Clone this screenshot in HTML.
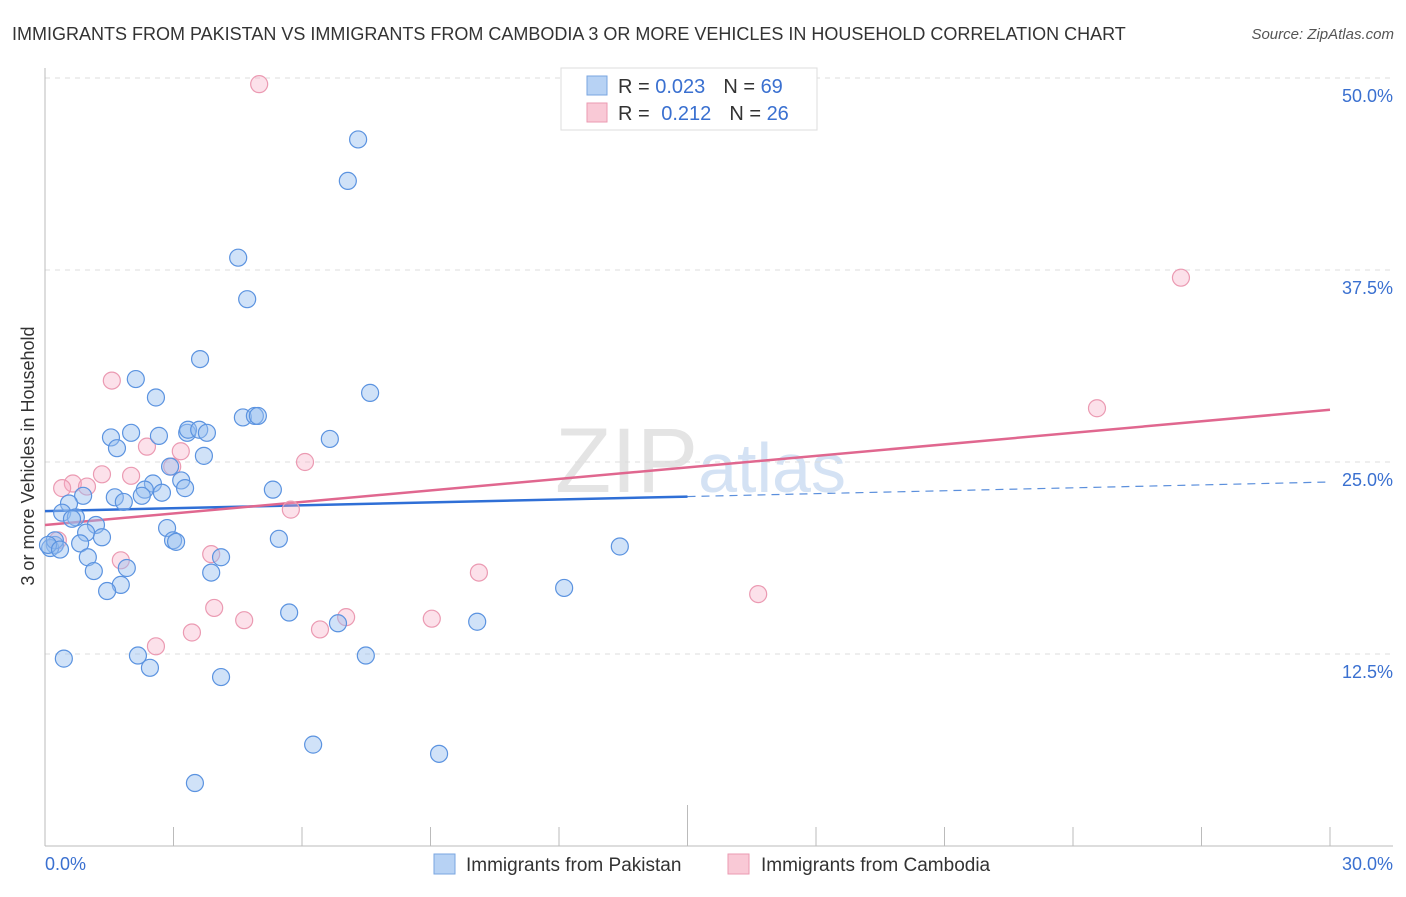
<!DOCTYPE html>
<html><head><meta charset="utf-8"><style>
body{margin:0;background:#fff;font-family:"Liberation Sans",sans-serif;}
svg text{font-family:"Liberation Sans",sans-serif;}
</style></head><body>
<svg id="chart" width="1406" height="892" xmlns="http://www.w3.org/2000/svg">
<text x="12" y="40" font-size="18" fill="#333">IMMIGRANTS FROM PAKISTAN VS IMMIGRANTS FROM CAMBODIA 3 OR MORE VEHICLES IN HOUSEHOLD CORRELATION CHART</text>
<text x="1394" y="39" font-size="15" fill="#555" text-anchor="end" font-style="italic">Source: ZipAtlas.com</text>
<text x="555" y="492" font-size="92" fill="#e4e4e4" font-family="Liberation Serif">ZIP<tspan fill="#d4e2f4" font-family="Liberation Sans" font-size="70">atlas</tspan></text>
<g id="grid"></g>
<g id="axes"></g>
<g id="lines"></g>
<g id="pts"></g>
<text transform="translate(34,456) rotate(-90)" font-size="18" fill="#333" text-anchor="middle">3 or more Vehicles in Household</text>
<g>
<rect x="561" y="68" width="256" height="62" fill="#fff" stroke="#ddd"/>
<rect x="587" y="76" width="20" height="19" fill="#b7d2f4" stroke="#7aa6e0"/>
<rect x="587" y="103" width="20" height="19" fill="#f9c9d6" stroke="#eb9ab2"/>
<text x="618" y="93" font-size="20" fill="#333">R = <tspan fill="#3a70d0">0.023</tspan><tspan dx="18">N = </tspan><tspan fill="#3a70d0">69</tspan></text>
<text x="618" y="120" font-size="20" fill="#333">R = <tspan dx="6" fill="#3a70d0">0.212</tspan><tspan dx="18">N = </tspan><tspan fill="#3a70d0">26</tspan></text>
</g>
<g>
<rect x="434" y="854" width="21" height="20" fill="#b7d2f4" stroke="#7aa6e0"/>
<text x="466" y="871" font-size="19" fill="#333">Immigrants from Pakistan</text>
<rect x="728" y="854" width="21" height="20" fill="#f9c9d6" stroke="#eb9ab2"/>
<text x="761" y="871" font-size="19" fill="#333">Immigrants from Cambodia</text>
</g>
</svg>
<script>
const blueX=[7.31,7.07,4.51,4.72,3.62,2.12,7.59,2.59,4.62,4.90,4.97,1.54,2.01,2.66,3.32,3.34,3.60,3.78,6.65,1.68,3.71,2.92,3.18,2.52,3.27,2.33,2.73,1.63,2.26,0.89,0.56,1.84,5.32,0.40,0.72,0.63,1.19,0.96,1.33,2.85,2.99,3.06,5.46,13.42,0.82,0.23,0.12,1.00,4.11,1.91,1.14,3.88,1.77,1.45,12.12,5.70,6.84,10.09,0.44,2.17,2.45,7.49,4.11,6.26,9.20,3.50,0.23,0.07,0.35];
const blueY=[46.0,43.3,38.3,35.6,31.7,30.4,29.5,29.2,27.9,28.0,28.0,26.6,26.9,26.7,26.9,27.1,27.1,26.9,26.5,25.9,25.4,24.7,23.8,23.6,23.3,23.2,23.0,22.7,22.8,22.8,22.3,22.4,23.2,21.7,21.4,21.3,20.9,20.4,20.1,20.7,19.9,19.8,20.0,19.5,19.7,19.6,19.4,18.8,18.8,18.1,17.9,17.8,17.0,16.6,16.8,15.2,14.5,14.6,12.2,12.4,11.6,12.4,11.0,6.6,6.0,4.1,19.9,19.6,19.3];
const pinkX=[5.00,26.52,24.56,1.56,2.38,3.17,6.07,1.33,2.01,2.97,0.65,0.40,0.98,5.74,3.88,1.77,0.30,10.13,16.65,3.95,4.65,7.03,6.42,9.03,3.43,2.59];
const pinkY=[49.6,37.0,28.5,30.3,26.0,25.7,25.0,24.2,24.1,24.7,23.6,23.3,23.4,21.9,19.0,18.6,19.9,17.8,16.4,15.5,14.7,14.9,14.1,14.8,13.9,13.0];
const fitIntercepts=[21.8,20.9];
const fitSlopes=[0.0633,0.25];
const yTicks=[12.5,25,37.5,50];
const yTickLabels=["12.5%","25.0%","37.5%","50.0%"];
const xTicks=[0,3,6,9,12,15,18,21,24,27,30];
const NS="http://www.w3.org/2000/svg";
const X=v=>45+v/30*1285, Y=v=>846-v*15.36;
function mk(tag,attrs,parent){const e=document.createElementNS(NS,tag);for(const k in attrs)e.setAttribute(k,attrs[k]);document.getElementById(parent).appendChild(e);return e;}
yTicks.forEach((t,i)=>{
 const g=mk('line',{x1:45,x2:1393,y1:Y(t),y2:Y(t),stroke:'#ddd','stroke-dasharray':'5,5'},'grid');
 
 
 const l=mk('text',{x:1393,y:Y(t)+24,'font-size':18,fill:'#3a70d0','text-anchor':'end'},'grid');
 l.textContent=yTickLabels[i];
 
 
});
const ax=mk('line',{x1:45,x2:1393,y1:846,y2:846,stroke:'#bbb'},'axes');


const ay=mk('line',{x1:45,x2:45,y1:68,y2:846,stroke:'#bbb'},'axes');


xTicks.forEach(t=>{
 const tk=mk('line',{x1:X(t),x2:X(t),y1:t===15?805:827,y2:846,stroke:'#bbb'},'axes');
 
 
});
const xl0=mk('text',{x:45,y:870,'font-size':18,fill:'#3a70d0'},'axes');xl0.textContent=xTicks[0].toFixed(1)+'%';


const xl1=mk('text',{x:1393,y:870,'font-size':18,fill:'#3a70d0','text-anchor':'end'},'axes');xl1.textContent=xTicks[xTicks.length-1].toFixed(1)+'%';


function dots(xs,ys,fill,stroke,name){xs.forEach((x,i)=>{
 const c=mk('circle',{cx:X(x),cy:Y(ys[i]),r:8.5,fill:fill,stroke:stroke,'stroke-width':1.2},'pts');
 
 
});}
dots(pinkX,pinkY,'rgba(245,170,195,0.35)','#eb9ab2','cambodia-point');
dots(blueX,blueY,'rgba(150,190,240,0.45)','#5b93e0','pakistan-point');
const f=(i,x)=>fitIntercepts[i]+fitSlopes[i]*x;
const b1=mk('line',{x1:X(0),y1:Y(f(0,0)),x2:X(15),y2:Y(f(0,15)),stroke:'#2f6fd6','stroke-width':2.5},'lines');


const b2=mk('line',{x1:X(15),y1:Y(f(0,15)),x2:X(30),y2:Y(f(0,30)),stroke:'#5b8fdc','stroke-width':1.2,'stroke-dasharray':'8,6'},'lines');


const p1=mk('line',{x1:X(0),y1:Y(f(1,0)),x2:X(30),y2:Y(f(1,30)),stroke:'#e0678f','stroke-width':2.5},'lines');


</script>
</body></html>
